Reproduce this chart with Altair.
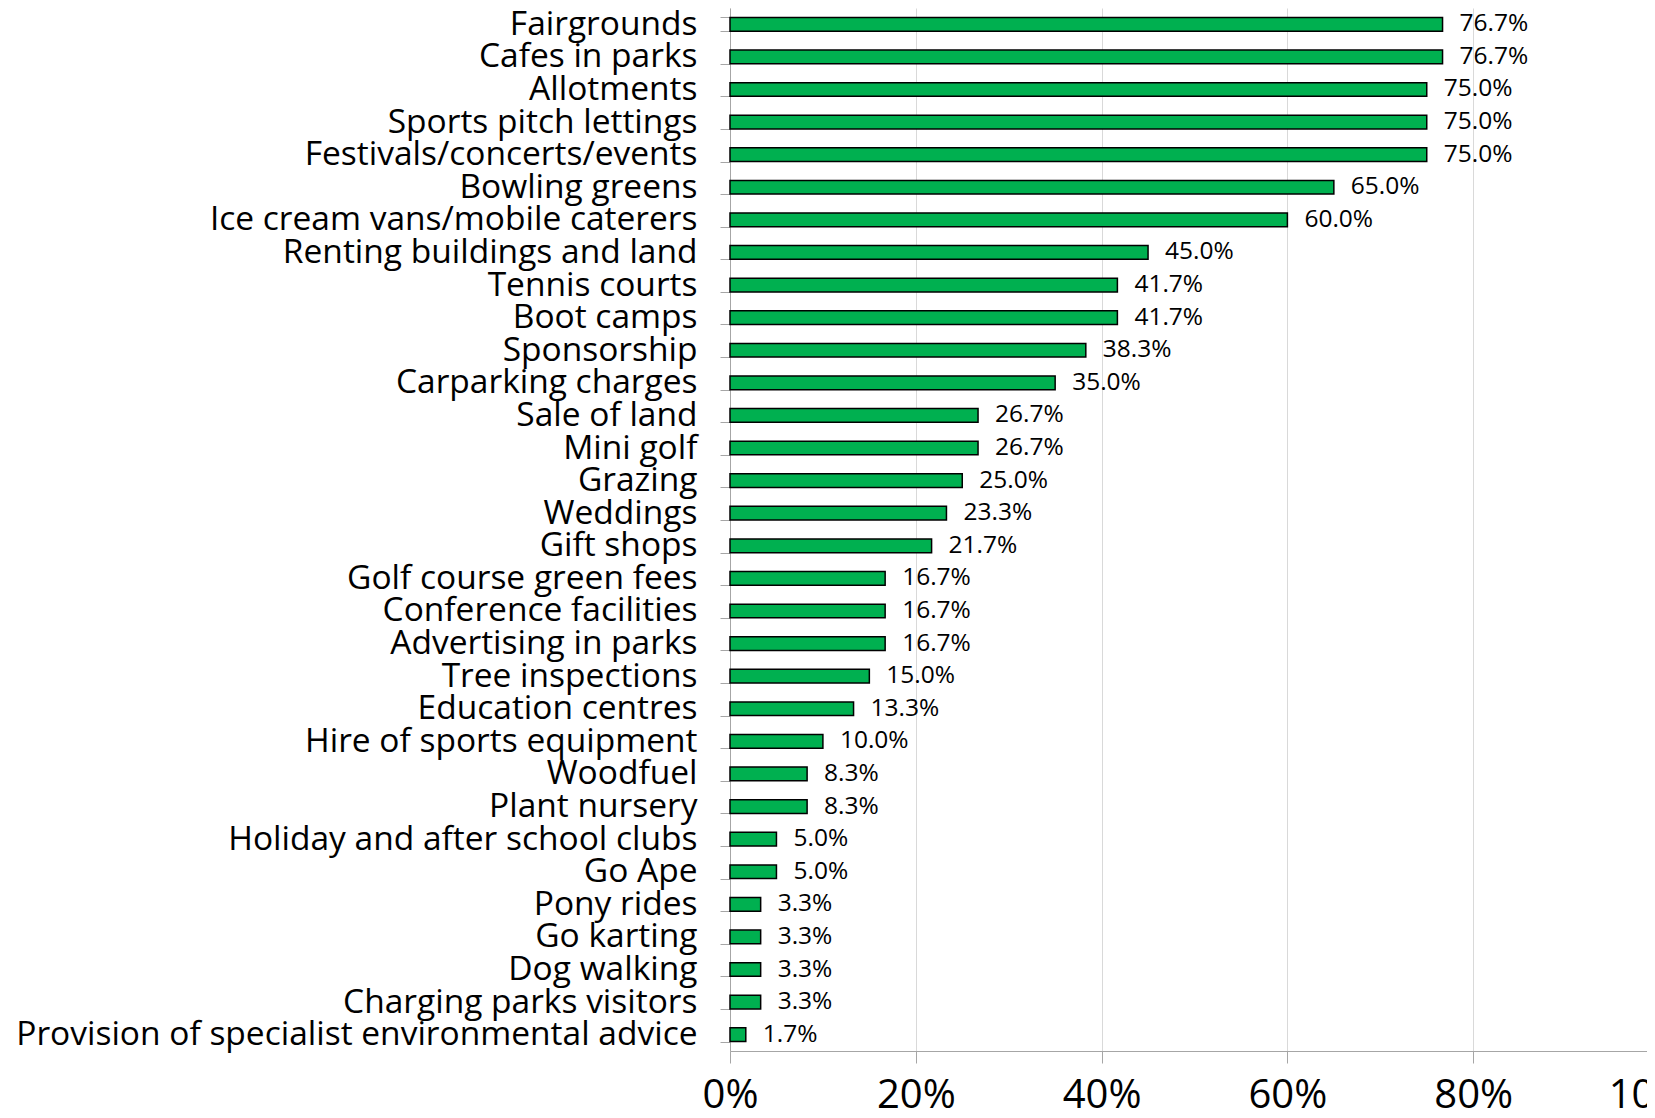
import altair as alt
import pandas as pd

categories = [
    "Fairgrounds", "Cafes in parks", "Allotments", "Sports pitch lettings",
    "Festivals/concerts/events", "Bowling greens", "Ice cream vans/mobile caterers",
    "Renting buildings and land", "Tennis courts", "Boot camps", "Sponsorship",
    "Carparking charges", "Sale of land", "Mini golf", "Grazing", "Weddings",
    "Gift shops", "Golf course green fees", "Conference facilities",
    "Advertising in parks", "Tree inspections", "Education centres",
    "Hire of sports equipment", "Woodfuel", "Plant nursery",
    "Holiday and after school clubs", "Go Ape", "Pony rides", "Go karting",
    "Dog walking", "Charging parks visitors",
    "Provision of specialist environmental advice",
]
values = [
    76.7, 76.7, 75.0, 75.0, 75.0, 65.0, 60.0, 45.0, 41.7, 41.7, 38.3, 35.0,
    26.7, 26.7, 25.0, 23.3, 21.7, 16.7, 16.7, 16.7, 15.0, 13.3, 10.0, 8.3,
    8.3, 5.0, 5.0, 3.3, 3.3, 3.3, 3.3, 1.7,
]
x_ticks = [0, 0.2, 0.4, 0.6, 0.8, 1.0]

df = pd.DataFrame({"category": categories, "share": [v / 100 for v in values]})

FONT = "Open Sans"
AXIS_GRAY = "#a6a6a6"

y_enc = alt.Y(
    "category:N", sort=categories, title=None,
    scale=alt.Scale(paddingInner=0.58, paddingOuter=0.29),
    axis=alt.Axis(
        labelFont=FONT, labelFontSize=33.5, labelColor="black", labelLimit=1200,
        labelPadding=23, tickSize=10, tickBand="extent", tickColor=AXIS_GRAY,
        domainColor=AXIS_GRAY, grid=False,
    ),
)
x_enc = alt.X(
    "share:Q", title=None,
    scale=alt.Scale(domain=[0, 1], nice=False, range=[0, 929]),
    axis=alt.Axis(
        format=".0%", values=x_ticks, labelFont=FONT, labelFontSize=40,
        labelColor="black", tickSize=12, labelPadding=12, grid=True,
        gridColor="#d9d9d9", domainColor=AXIS_GRAY, tickColor=AXIS_GRAY,
        labelFlush=False, labelOverlap=False,
    ),
)

bars = alt.Chart(df).mark_bar(
    color="#00B050", stroke="black", strokeWidth=1.5
).encode(x=x_enc, y=y_enc)

labels = alt.Chart(df).mark_text(
    align="left", baseline="middle", dx=17, font=FONT, fontSize=24.5, color="black"
).encode(
    x="share:Q",
    y=alt.Y("category:N", sort=categories),
    text=alt.Text("share:Q", format=".1%"),
)

chart = (
    alt.layer(bars, labels)
    .properties(
        width=917, height=1043,
        autosize=alt.AutoSizeParams(type="none"),
        padding={"left": 722, "top": 0, "right": 0, "bottom": 59},
        background="white",
    )
    .configure_view(stroke=None)
)

chart.save("out.html", embed_options={"renderer": "svg", "actions": False})
